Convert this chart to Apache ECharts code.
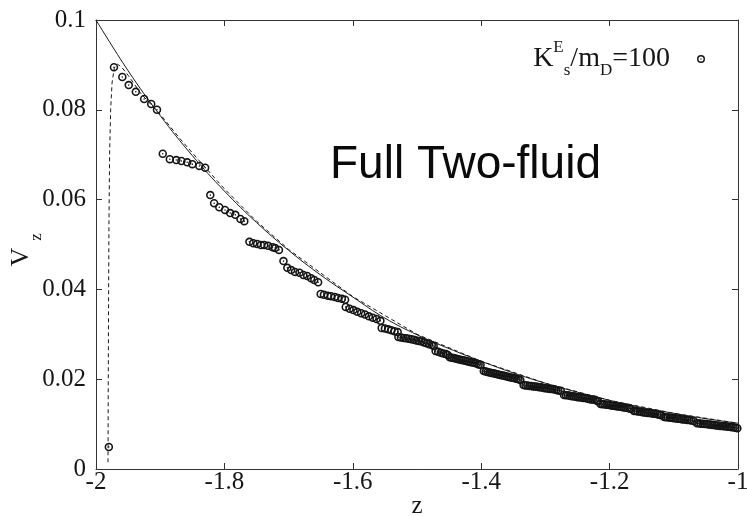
<!DOCTYPE html>
<html><head><meta charset="utf-8">
<script src="https://cdn.jsdelivr.net/npm/echarts@6/dist/echarts.min.js"></script>
<style>html,body{margin:0;padding:0;background:#fff}#c{width:747px;height:516px}</style>
</head><body><div id="c"></div>
<script>
// axis ranges
const zMin = -2, zMax = -1, zStep = 0.2;
const vMin = 0, vMax = 0.1, vStep = 0.02;

// solid curve
const solidCurve = [
  [-2.00,0.1000],[-1.95,0.0887],[-1.90,0.0787],[-1.85,0.0698],[-1.80,0.0619],
  [-1.75,0.0549],[-1.70,0.0487],[-1.65,0.0432],[-1.60,0.0383],[-1.55,0.0336],
  [-1.50,0.0299],[-1.45,0.0268],[-1.40,0.0240],[-1.35,0.0214],[-1.30,0.0191],
  [-1.25,0.0171],[-1.20,0.0153],[-1.15,0.0137],[-1.10,0.0124],[-1.05,0.0112],[-1.00,0.0102]
];

// dashed curve
const dashedCurve = [
  [-1.9813,0.0015],[-1.9810,0.0150],[-1.9805,0.0350],[-1.9798,0.0550],[-1.9788,0.0700],
  [-1.9772,0.0800],[-1.9750,0.0860],[-1.9715,0.0893],[-1.9670,0.0902],[-1.9600,0.0895],
  [-1.9500,0.0877],[-1.9300,0.0836],[-1.9000,0.0790],[-1.8700,0.0737],[-1.8400,0.0688],
  [-1.8000,0.0624],[-1.7500,0.0552],[-1.7000,0.0489],[-1.6000,0.0384],[-1.5000,0.0300],
  [-1.4000,0.0240],[-1.3000,0.0191],[-1.2000,0.0153],[-1.1000,0.0124],[-1.0000,0.0102]
];

// markers, sparse part
const markersSparse = [
  [-1.980,0.0049],
  [-1.972,0.0895],[-1.959,0.0873],[-1.949,0.0855],[-1.938,0.0840],[-1.925,0.0824],[-1.914,0.0813],[-1.905,0.0800],
  [-1.896,0.0702],[-1.885,0.0690],[-1.875,0.0688],[-1.867,0.0686],[-1.858,0.0683],[-1.850,0.0679],[-1.839,0.0675],[-1.830,0.0671],
  [-1.822,0.0610],[-1.816,0.0592],[-1.808,0.0583],[-1.799,0.0577],[-1.791,0.0570],[-1.783,0.0566],[-1.775,0.0557],[-1.769,0.0552],
  [-1.761,0.0506],[-1.755,0.0503],[-1.749,0.0501],[-1.743,0.0499],[-1.738,0.0499],[-1.732,0.0497],[-1.725,0.0494],[-1.721,0.0492],[-1.715,0.0488],
  [-1.708,0.0463],
  [-1.702,0.0448],[-1.696,0.0443],[-1.690,0.0439],[-1.683,0.0437],[-1.677,0.0432],[-1.671,0.0430],[-1.665,0.0425],[-1.660,0.0421],[-1.654,0.0416],
  [-1.650,0.0390],[-1.645,0.0388],[-1.639,0.0386],[-1.634,0.0385],[-1.628,0.0383],[-1.623,0.0381],[-1.617,0.0379],[-1.612,0.0377],
  [-1.611,0.0361],[-1.605,0.0357],[-1.599,0.0354],[-1.593,0.0350],[-1.587,0.0347],[-1.581,0.0344],[-1.575,0.0340],[-1.569,0.0337],[-1.563,0.0334],[-1.557,0.0330],
  [-1.555,0.0314],[-1.550,0.0313],[-1.545,0.0311],[-1.540,0.0309],[-1.535,0.0307],[-1.530,0.0305]
];

// markers, dense part
const markersDense = [
  [-1.529,0.0294],[-1.525,0.0293],[-1.521,0.0292],[-1.517,0.0291],[-1.513,0.0290],[-1.509,0.0289],[-1.505,0.0288],[-1.501,0.0286],
  [-1.497,0.0285],[-1.493,0.0284],[-1.489,0.0282],[-1.485,0.0280],[-1.481,0.0278],[-1.477,0.0276],[-1.474,0.0274],
  [-1.471,0.0263],[-1.467,0.0261],[-1.463,0.0259],[-1.459,0.0257],[-1.455,0.0256],[-1.452,0.0254],
  [-1.449,0.0249],[-1.446,0.0248],[-1.443,0.0247],[-1.440,0.0246],[-1.437,0.0245],[-1.434,0.0244],[-1.431,0.0243],[-1.428,0.0242],
  [-1.425,0.0241],[-1.422,0.0240],[-1.419,0.0239],[-1.416,0.0238],[-1.413,0.0237],[-1.410,0.0236],[-1.407,0.0235],[-1.404,0.0233],[-1.401,0.0232],
  [-1.396,0.0218],[-1.393,0.0217],[-1.390,0.0216],[-1.387,0.0215],[-1.384,0.0214],[-1.381,0.0213],[-1.378,0.0212],[-1.375,0.0211],
  [-1.372,0.0210],[-1.369,0.0209],[-1.366,0.0208],[-1.363,0.0207],[-1.360,0.0206],[-1.357,0.0205],[-1.354,0.0204],[-1.351,0.0203],
  [-1.348,0.0202],[-1.345,0.0201],[-1.342,0.0200],[-1.339,0.0198],
  [-1.334,0.0187],[-1.331,0.0186],[-1.328,0.0186],[-1.325,0.0185],[-1.322,0.0185],[-1.319,0.0184],[-1.316,0.0184],[-1.313,0.0183],
  [-1.310,0.0182],[-1.307,0.0182],[-1.304,0.0181],[-1.301,0.0180],[-1.298,0.0180],[-1.295,0.0179],[-1.292,0.0178],[-1.289,0.0178],
  [-1.286,0.0177],[-1.283,0.0176],[-1.280,0.0175],[-1.276,0.0174],
  [-1.271,0.0165],[-1.268,0.0164],[-1.265,0.0164],[-1.262,0.0163],[-1.259,0.0162],[-1.256,0.0162],[-1.253,0.0161],[-1.250,0.0160],
  [-1.247,0.0160],[-1.244,0.0159],[-1.241,0.0158],[-1.238,0.0158],[-1.235,0.0157],[-1.232,0.0156],[-1.229,0.0155],[-1.226,0.0155],
  [-1.223,0.0154],[-1.220,0.0152],[-1.218,0.0151],
  [-1.214,0.0145],[-1.211,0.0144],[-1.208,0.0144],[-1.205,0.0143],[-1.202,0.0143],[-1.199,0.0142],[-1.196,0.0141],[-1.193,0.0141],
  [-1.190,0.0140],[-1.187,0.0139],[-1.184,0.0139],[-1.181,0.0138],[-1.178,0.0137],[-1.175,0.0137],[-1.172,0.0136],[-1.169,0.0135],[-1.167,0.0134],
  [-1.162,0.0129],[-1.159,0.0129],[-1.156,0.0128],[-1.153,0.0128],[-1.150,0.0127],[-1.147,0.0126],[-1.144,0.0126],[-1.141,0.0125],
  [-1.138,0.0125],[-1.135,0.0124],[-1.132,0.0123],[-1.129,0.0123],[-1.126,0.0122],[-1.123,0.0121],[-1.120,0.0120],
  [-1.115,0.0116],[-1.112,0.0115],[-1.109,0.0115],[-1.106,0.0114],[-1.103,0.0114],[-1.100,0.0113],[-1.097,0.0113],[-1.094,0.0112],
  [-1.091,0.0112],[-1.088,0.0111],[-1.085,0.0110],[-1.082,0.0110],[-1.079,0.0109],[-1.076,0.0109],[-1.073,0.0108],[-1.069,0.0107],
  [-1.064,0.0102],[-1.061,0.0102],[-1.058,0.0101],[-1.055,0.0101],[-1.052,0.0100],[-1.049,0.0100],[-1.046,0.0099],[-1.043,0.0099],
  [-1.040,0.0098],[-1.037,0.0098],[-1.034,0.0097],[-1.031,0.0097],[-1.028,0.0096],[-1.025,0.0096],[-1.022,0.0095],[-1.019,0.0095],
  [-1.016,0.0094],[-1.013,0.0094],[-1.010,0.0093],[-1.007,0.0093],[-1.004,0.0092],[-1.001,0.0091]
];

const seriesName = 'KEs/mD=100';
const titleText = 'Full Two-fluid';

const serif = "'Liberation Serif', 'DejaVu Serif', serif";
const dotCircle = 'path://M0,-10A10,10 0 1,1 0,10A10,10 0 1,1 0,-10ZM0,-6.3A6.3,6.3 0 1,0 0,6.3A6.3,6.3 0 1,0 0,-6.3ZM0,-1.8A1.8,1.8 0 1,1 0,1.8A1.8,1.8 0 1,1 0,-1.8Z';
const axisCol = '#333';
const txtCol = '#161616';

function xAx(pos, show) {
  return {
    type: 'value', min: zMin, max: zMax, interval: zStep, position: pos,
    axisLine: { onZero: false, lineStyle: { color: axisCol, width: 1 } },
    axisTick: { inside: true, length: 6, lineStyle: { color: axisCol } },
    axisLabel: { show: show, fontFamily: serif, fontSize: 25, color: txtCol, margin: 1 },
    splitLine: { show: false },
    name: show ? 'z' : '', nameLocation: 'middle', nameGap: 25, nameMoveOverlap: false,
    nameTextStyle: { fontFamily: serif, fontSize: 25, color: txtCol }
  };
}
function yAx(pos, show) {
  return {
    type: 'value', min: vMin, max: vMax, interval: vStep, position: pos,
    axisLine: { onZero: false, lineStyle: { color: axisCol, width: 1 } },
    axisTick: { inside: true, length: 6, lineStyle: { color: axisCol } },
    axisLabel: { show: show, fontFamily: serif, fontSize: 25, color: txtCol, margin: 10 },
    splitLine: { show: false }
  };
}

const chart = echarts.init(document.getElementById('c'), null, { renderer: 'canvas' });
chart.setOption({
  animation: false,
  backgroundColor: '#fff',
  grid: { left: 96, right: 9, top: 20, bottom: 47, containLabel: false, outerBoundsMode: 'none' },
  xAxis: [xAx('bottom', true), xAx('top', false)],
  yAxis: [yAx('left', true), yAx('right', false)],
  legend: {
    right: 42, top: 39, padding: 0, align: 'right',
    itemWidth: 52, itemHeight: 8,
    data: [{ name: seriesName, icon: dotCircle }],
    formatter: () => '{n|K}{sup|E}{sub|s}{n|/m}{sub|D}{n|=100}',
    textStyle: {
      color: txtCol,
      rich: {
        n: { fontFamily: serif, fontSize: 28, lineHeight: 40, color: txtCol },
        sup: { fontFamily: serif, fontSize: 17, lineHeight: 24, verticalAlign: 'top', color: txtCol },
        sub: { fontFamily: serif, fontSize: 17, lineHeight: 20, verticalAlign: 'bottom', color: txtCol }
      }
    }
  },
  graphic: [
    { type: 'text', x: 330, y: 165, style: { text: titleText, font: "46px 'Liberation Sans', Arial, sans-serif", fill: '#0a0a0a', align: 'left', verticalAlign: 'middle' } },
    { type: 'text', x: 21, y: 257, rotation: Math.PI / 2, style: { text: 'V', font: "26px 'Liberation Serif', serif", fill: txtCol, align: 'center', verticalAlign: 'middle' } },
    { type: 'text', x: 37, y: 237, rotation: Math.PI / 2, style: { text: 'z', font: "17px 'Liberation Serif', serif", fill: txtCol, align: 'center', verticalAlign: 'middle' } }
  ],
  series: [
    {
      type: 'line', data: solidCurve, showSymbol: false, smooth: 0.4,
      lineStyle: { color: '#1a1a1a', width: 1 }, z: 3, silent: true
    },
    {
      type: 'line', data: dashedCurve, showSymbol: false, smooth: false,
      lineStyle: { color: '#1a1a1a', width: 1, type: [4, 3] }, z: 3, silent: true
    },
    {
      name: seriesName, type: 'scatter', data: markersSparse.concat(markersDense),
      symbol: dotCircle, symbolSize: 8.5,
      itemStyle: { color: '#151515', opacity: 1 }, z: 2
    }
  ]
});
</script></body></html>
